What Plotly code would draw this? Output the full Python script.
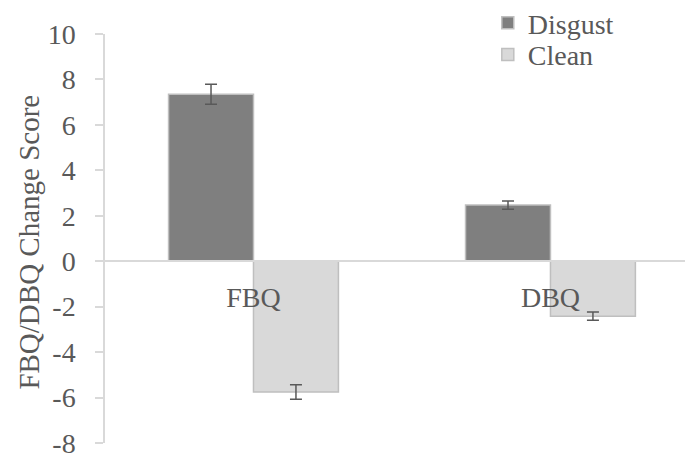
import plotly.graph_objects as go

categories = ["FBQ", "DBQ"]
disgust = [7.35, 2.47]
disgust_err = [0.44, 0.18]
clean = [-5.76, -2.42]
clean_err = [0.32, 0.18]
y_ticks = [10, 8, 6, 4, 2, 0, -2, -4, -6, -8]
y_tick_text = ["10", "8", "6", "4", "2", "0", "-2", "-4", "-6", "-8"]
y_title = "FBQ/DBQ Change Score"

FONT = "Liberation Serif, Times New Roman, serif"
TXT = "#595959"
FS = 28

fig = go.Figure()
fig.add_trace(go.Bar(
    name="Disgust", x=categories, y=disgust, legend="legend", showlegend=True,
    marker=dict(color="#7f7f7f", line=dict(color="#bfbfbf", width=1.5)),
    error_y=dict(type="data", array=disgust_err, color=TXT, thickness=1.5, width=6),
))
fig.add_trace(go.Bar(
    name="Clean", x=categories, y=clean, legend="legend2", showlegend=True,
    marker=dict(color="#d9d9d9", line=dict(color="#bfbfbf", width=1.5)),
    error_y=dict(type="data", array=clean_err, color=TXT, thickness=1.5, width=6),
))

legend_common = dict(xanchor="left", yanchor="middle", font=dict(family=FONT, size=FS, color=TXT),
                     bgcolor="rgba(0,0,0,0)", borderwidth=0)

fig.update_layout(
    width=685, height=454, showlegend=True,
    margin=dict(l=105, r=0, t=34, b=11, autoexpand=False),
    paper_bgcolor="white", plot_bgcolor="white",
    barmode="group", bargap=0.428, bargroupgap=0,
    font=dict(family=FONT, size=FS, color=TXT),
    legend=dict(x=0.66, y=1.027, **legend_common),
    legend2=dict(x=0.66, y=0.949, **legend_common),
    xaxis=dict(
        type="category", range=[-0.5, 1.453], automargin=False,
        anchor="free", position=8/18,
        showline=True, linecolor="#d9d9d9", linewidth=1.5,
        showgrid=False, zeroline=False, ticks="",
        ticklabelstandoff=11,
        tickfont=dict(family=FONT, size=FS, color=TXT),
    ),
    yaxis=dict(
        range=[-8, 10], tickvals=y_ticks, ticktext=y_tick_text, automargin=False,
        showline=True, linecolor="#d9d9d9", linewidth=1.5,
        ticks="outside", ticklen=8, tickcolor="#d9d9d9", tickwidth=1.5,
        ticklabelstandoff=14, ticklabeloverflow="allow",
        showgrid=False, zeroline=False,
        tickfont=dict(family=FONT, size=FS, color=TXT),
    ),
    annotations=[dict(
        text=y_title, textangle=-90, xref="paper", yref="paper",
        x=-0.131, y=0.49, xanchor="center", yanchor="middle", showarrow=False,
        font=dict(family=FONT, size=29, color=TXT),
    )],
)

fig.write_html("out.html", config={"displayModeBar": False},
               post_script="document.body.style.margin='0';document.body.style.overflow='hidden';")
